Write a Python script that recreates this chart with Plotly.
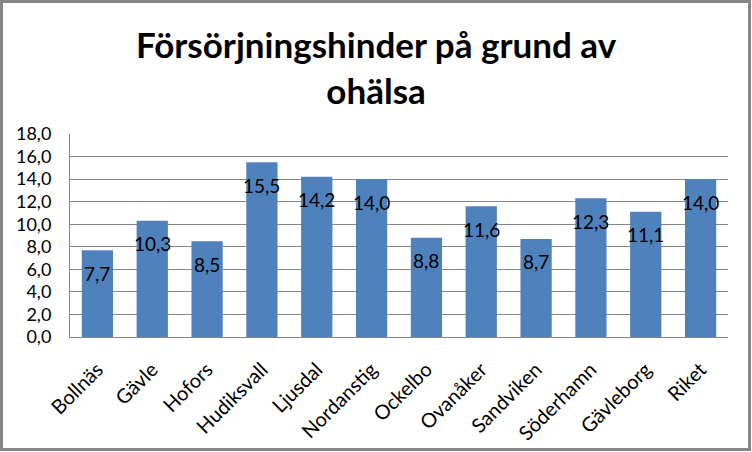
import plotly.graph_objects as go

categories = ["Bollnäs", "Gävle", "Hofors", "Hudiksvall", "Ljusdal", "Nordanstig",
              "Ockelbo", "Ovanåker", "Sandviken", "Söderhamn", "Gävleborg", "Riket"]
values = [7.7, 10.3, 8.5, 15.5, 14.2, 14.0, 8.8, 11.6, 8.7, 12.3, 11.1, 14.0]
y_ticks = [0, 2, 4, 6, 8, 10, 12, 14, 16, 18]
y_tick_labels = [f"{v:.1f}".replace(".", ",") for v in y_ticks]
value_labels = [f"{v:.1f}".replace(".", ",") for v in values]
title_text = "<b>Försörjningshinder på grund av<br>ohälsa</b>"

W, H = 752, 452
L, R, T, B = 70, 24, 134, 115
pw, ph = W - L - R, H - T - B

fig = go.Figure()
fig.add_trace(go.Bar(x=categories, y=values, marker=dict(color="#4F81BD", line=dict(width=0)),
                     hoverinfo="x+y"))

for c, v, lab in zip(categories, values, value_labels):
    fig.add_annotation(x=c, y=v, text=lab, showarrow=False, yshift=-23,
                       font=dict(family="Lato", size=19, color="black"))

# chart title
fig.add_annotation(text=title_text, xref="paper", yref="paper",
                   x=(W / 2 - L) / pw, y=1 + (T - 21) / ph, xanchor="center", yanchor="top",
                   showarrow=False, align="center",
                   font=dict(family="Lato", size=35, color="black"))

fig.update_layout(
    width=W, height=H,
    margin=dict(l=L, r=R, t=T, b=B, autoexpand=False),
    paper_bgcolor="white", plot_bgcolor="white",
    bargap=0.43,
    showlegend=False,
    font=dict(family="Lato", size=16, color="black"),
)
fig.update_xaxes(type="category", tickangle=-45, showgrid=False, showline=True,
                 linecolor="#868686", linewidth=1, ticks="", ticklabelstandoff=12,
                 automargin=False,
                 tickfont=dict(family="Lato", size=20, color="black"))
fig.update_yaxes(range=[0, 18], tickvals=y_ticks, ticktext=y_tick_labels,
                 showgrid=True, gridcolor="#868686", gridwidth=1,
                 showline=True, linecolor="#868686", linewidth=1, ticks="",
                 ticklabelstandoff=14, zeroline=False, automargin=False,
                 tickfont=dict(family="Lato", size=18, color="black"))

# outer chart border
fig.add_shape(type="rect", xref="paper", yref="paper",
              x0=(1.5 - L) / pw, x1=(W - 2.5 - L) / pw,
              y0=-(H - 2.5 - T - ph) / ph, y1=1 + (T - 1.5) / ph,
              line=dict(color="#868686", width=3), fillcolor="rgba(0,0,0,0)", layer="above")

fig.write_html("out.html")
